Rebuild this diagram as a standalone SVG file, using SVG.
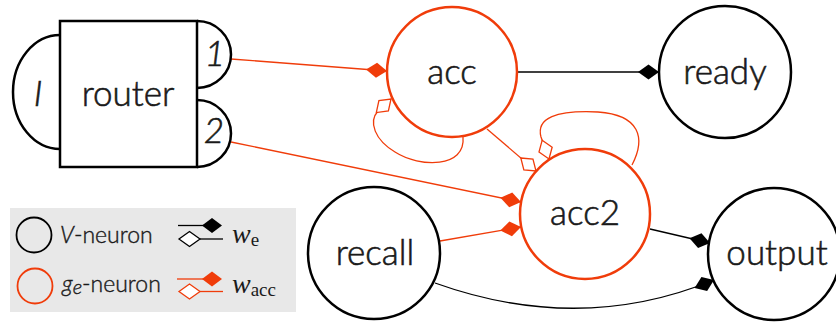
<svg xmlns="http://www.w3.org/2000/svg" width="836" height="322" viewBox="0 0 836 322">
<style>
.lbl{font-family:Lato,"Noto Sans",sans-serif;font-weight:300;font-size:35px;fill:#1a1a1a;stroke:#1a1a1a;stroke-width:0.6;text-anchor:middle}
.nb{fill:#fff;stroke:#000;stroke-width:2.5}
.no{fill:#fff;stroke:#f03c0a;stroke-width:2.5}
.cb{fill:none;stroke:#000;stroke-width:1.3}
.co{fill:none;stroke:#f03c0a;stroke-width:1.3}
.leg{font-family:Lato,"Noto Sans",sans-serif;font-weight:300;font-size:23px;fill:#1a1a1a;stroke:#1a1a1a;stroke-width:0.4}
.math{font-family:"Liberation Serif","DejaVu Serif",serif;font-style:italic;font-weight:normal;font-size:28px;fill:#1a1a1a}
</style>
<defs>
<marker id="fb" markerUnits="userSpaceOnUse" markerWidth="22" markerHeight="16" viewBox="0 -8 22 16" refX="21" refY="0" orient="auto"><path d="M0,0 L10.5,-7.5 L21,0 L10.5,7.5 Z" fill="#000"/></marker>
<marker id="fo" markerUnits="userSpaceOnUse" markerWidth="22" markerHeight="16" viewBox="0 -8 22 16" refX="21" refY="0" orient="auto"><path d="M0,0 L10.5,-7.5 L21,0 L10.5,7.5 Z" fill="#f03c0a"/></marker>
<marker id="oo" markerUnits="userSpaceOnUse" markerWidth="24" markerHeight="18" viewBox="-1 -9 24 18" refX="20" refY="0" orient="auto"><path d="M0,0 L10,-7 L20,0 L10,7 Z" fill="#fff" stroke="#f03c0a" stroke-width="1.3"/></marker>
</defs>
<g id="legend">
<rect x="10" y="208" width="286" height="104" fill="#e8e8e8"/>
<circle cx="34" cy="235" r="17.5" fill="none" stroke="#000" stroke-width="1.8"/>
<circle cx="35" cy="286" r="17.5" fill="none" stroke="#f03c0a" stroke-width="1.8"/>
<text class="leg" x="60" y="243"><tspan font-style="italic">V</tspan>-neuron</text>
<text class="leg" x="62" y="292"><tspan font-style="italic">g</tspan><tspan font-style="italic" font-size="20" dy="2">e</tspan><tspan dy="-2">-neuron</tspan></text>
<line x1="178" y1="225.5" x2="205" y2="225.5" stroke="#000" stroke-width="1.3"/>
<path d="M202,225.5 L212,218 L222,225.5 L212,233 Z" fill="#000"/>
<line x1="200" y1="239" x2="223" y2="239" stroke="#000" stroke-width="1.3"/>
<path d="M179,239 L189.5,231.5 L200,239 L189.5,246.5 Z" fill="#fff" stroke="#000" stroke-width="1.3"/>
<line x1="177" y1="279" x2="205" y2="279" stroke="#f03c0a" stroke-width="1.3"/>
<path d="M202,279 L212,271.5 L222,279 L212,286.5 Z" fill="#f03c0a"/>
<line x1="200" y1="291.5" x2="223" y2="291.5" stroke="#f03c0a" stroke-width="1.3"/>
<path d="M179,291.5 L189.5,284 L200,291.5 L189.5,299 Z" fill="#fff" stroke="#f03c0a" stroke-width="1.3"/>
<text class="math" x="232" y="243">w<tspan font-style="normal" font-size="19" dy="3">e</tspan></text>
<text class="math" x="232" y="293">w<tspan font-style="normal" font-size="19" dy="3">acc</tspan></text>
</g>
<g id="connectors">
<path class="co" d="M231,59 L387,71" marker-end="url(#fo)"/>
<path class="co" d="M231,142 L521,202" marker-end="url(#fo)"/>
<path class="co" d="M440,241 L521,227" marker-end="url(#fo)"/>
<path class="cb" d="M517,72 L659,72" marker-end="url(#fb)"/>
<path class="co" d="M487,129 L536,171" marker-end="url(#oo)"/>
<path class="co" d="M463,137 C466,168 420,168 395,152 C375,140 368,122 378,111 L391,99" marker-end="url(#oo)"/>
<path class="co" d="M632,165 C646,138 640,115 598,112 C556,110 536,118 541,137 L549,159" marker-end="url(#oo)"/>
<path class="cb" d="M650,229 L710,243" marker-end="url(#fb)"/>
<path class="cb" d="M435,283 Q580,335 714,280" marker-end="url(#fb)"/>
</g>
<g id="router">
<path d="M60,35 A47,57 0 0 0 60,149" fill="#fff" stroke="#000" stroke-width="2.5"/>
<path d="M197,21 A34,33.5 0 0 1 197,88" fill="#fff" stroke="#000" stroke-width="2.5"/>
<path d="M197,100 A34,33.5 0 0 1 197,167" fill="#fff" stroke="#000" stroke-width="2.5"/>
<rect x="60" y="21" width="137" height="146" fill="#fff" stroke="#000" stroke-width="2.5"/>
<text class="lbl" x="128" y="106">router</text>
<text class="lbl" x="38" y="106" font-style="italic">I</text>
<text class="lbl" x="215" y="66" font-style="italic">1</text>
<text class="lbl" x="214" y="143" font-style="italic">2</text>
</g>
<g id="acc"><circle class="no" cx="452" cy="72" r="65"/><text class="lbl" x="452" y="84">acc</text></g>
<g id="ready"><circle class="nb" cx="725" cy="72" r="66"/><text class="lbl" x="725" y="84">ready</text></g>
<g id="acc2"><circle class="no" cx="585" cy="214" r="65"/><text class="lbl" x="585" y="225">acc2</text></g>
<g id="recall"><circle class="nb" cx="374" cy="253" r="66"/><text class="lbl" x="375" y="265">recall</text></g>
<g id="output"><circle class="nb" cx="774" cy="254" r="66"/><text class="lbl" x="777" y="265">output</text></g>
</svg>
